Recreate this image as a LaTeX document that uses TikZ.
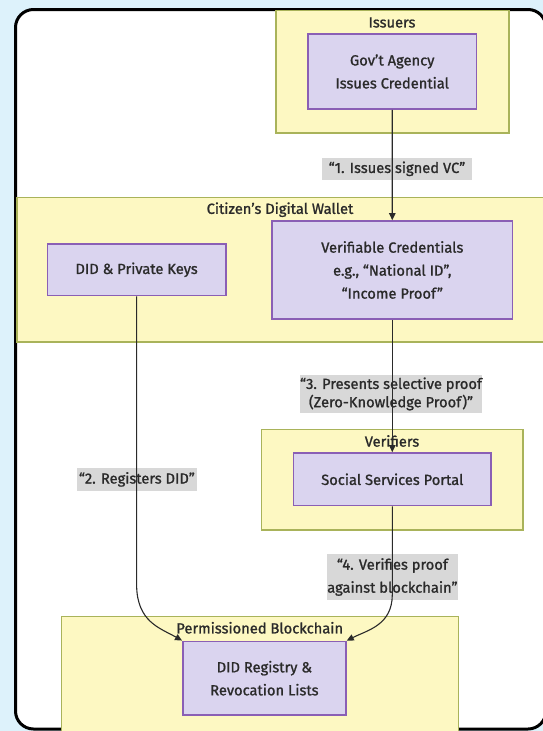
\documentclass[tikz,border=0pt]{standalone}
\usepackage{fontspec}
\setmainfont{Fira Sans}[FakeBold=1.2]
\usetikzlibrary{arrows.meta}
\definecolor{pagebg}{HTML}{DDF2FB}
\definecolor{grpfill}{HTML}{FDF8C2}
\definecolor{grpdraw}{HTML}{A9B35A}
\definecolor{ndfill}{HTML}{DAD4EF}
\definecolor{nddraw}{HTML}{8A5FB5}
\definecolor{lblfill}{HTML}{D8D8D8}
\definecolor{txt}{HTML}{2A2A2A}
\tikzset{
  grp/.style={fill=grpfill, draw=grpdraw, line width=1.3pt},
  grptitle/.style={text=txt, font=\fontsize{14.7}{23}\selectfont, inner sep=0pt},
  procbox/.style={fill=ndfill, draw=nddraw, line width=1.6pt, text=txt, align=center,
    inner sep=0pt, font=\fontsize{14.7}{23}\selectfont},
  edgelbl/.style={fill=lblfill, text=txt, align=center, inner sep=0pt,
    font=\fontsize{14.7}{23}\selectfont},
  conn/.style={draw=txt, line width=1.1pt, -{Triangle[length=7pt,width=6.5pt]}},
}
\begin{document}
\begin{tikzpicture}[x=1pt,y=-1pt]
\useasboundingbox (0,0) rectangle (543,731);
\fill[pagebg] (0,0) rectangle (543,731);
\draw[fill=white, line width=3pt, rounded corners=18pt] (15.5,9.5) rectangle (546,729);

% groups
\draw[grp] (276,10.5) rectangle (509,133);
\node[grptitle] (tIss) at (392,22.5) {Issuers};
\draw[grp] (17,197.6) rectangle (550,342);
\node[grptitle] (tWal) at (280,209.7) {Citizen's Digital Wallet};
\draw[grp] (261.4,429.4) rectangle (523,530);
\node[grptitle] (tVer) at (392,441) {Verifiers};
\draw[grp] (61.6,616.4) rectangle (458.8,745);
\node[grptitle] (tBlk) at (259.7,627.8) {Permissioned Blockchain};

% process nodes
\node[procbox, minimum width=168.5pt, minimum height=75pt] (gov) at (392.2,71.5) {Gov't Agency\\Issues Credential};
\node[procbox, minimum width=178.4pt, minimum height=51.6pt] (did) at (136.6,269.8) {DID \& Private Keys};
\node[procbox, minimum width=240.5pt, minimum height=98pt] (vc) at (392.3,270) {Verifiable Credentials\\e.g., “National ID”,\\“Income Proof”};
\node[procbox, minimum width=197.4pt, minimum height=52.6pt] (ssp) at (392.3,479.3) {Social Services Portal};
\node[procbox, minimum width=163.2pt, minimum height=73.7pt] (reg) at (264.4,678.2) {DID Registry \&\\Revocation Lists};

% edge labels
\node[edgelbl, minimum width=150pt, minimum height=22.5pt] (l1) at (397,168.8) {“1. Issues signed VC”};
\node[edgelbl, minimum width=119.7pt, minimum height=22.7pt] (l2) at (136.9,479.4) {“2. Registers DID”};
\node[edgelbl, minimum width=182pt, minimum height=38.8pt, font=\fontsize{14.7}{18.3}\selectfont] (l3) at (391,393.9) {“3. Presents selective proof\\(Zero-Knowledge Proof)”};
\node[edgelbl, minimum width=130.7pt, minimum height=46pt] (l4) at (392.4,577) {“4. Verifies proof\\against blockchain”};

% connectors
\draw[conn] (gov.south) -- (vc.north);
\draw[conn] (vc.south) -- (ssp.north);
\coordinate (b2) at (did.south |- 0,585);
\coordinate (b4) at (ssp.south |- 0,595);
\draw[conn] (did.south) -- (b2) .. controls (137,622) and (160,628) .. (reg.north west);
\draw[conn] (ssp.south) -- (b4) .. controls (392,625) and (368,630) .. (reg.north east);
\end{tikzpicture}
\end{document}
